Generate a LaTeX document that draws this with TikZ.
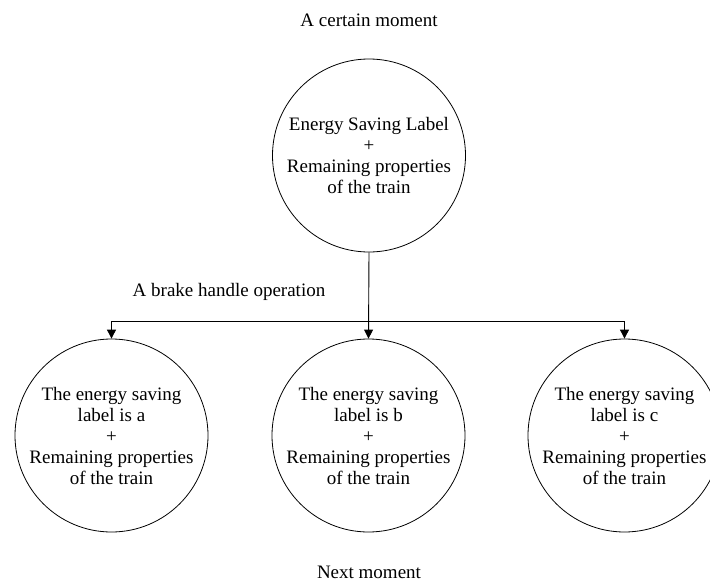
\documentclass[tikz,border=0pt]{standalone}
\usepackage{fontspec}
\setmainfont{Liberation Serif}
\usetikzlibrary{arrows.meta}
\begin{document}
\begin{tikzpicture}[x=1pt,y=-1pt,
  state/.style={draw,circle,line width=0.8pt,minimum size=193pt,inner sep=0pt,align=center,font=\fontsize{19}{21}\selectfont},
  caption/.style={font=\fontsize{19}{21}\selectfont,inner sep=0pt},
  link/.style={line width=0.9pt,-{Triangle[length=9pt,width=9pt]}}]
\useasboundingbox (0,0) rectangle (710,581);
\clip (0,0) rectangle (710,581);
\node[state] (top) at (369,155.5) {Energy Saving Label\\+\\Remaining properties\\of the train};
\node[state] (a) at (111.5,435.5) {The energy saving\\label is a\\+\\Remaining properties\\of the train};
\node[state] (b) at (368.5,435.5) {The energy saving\\label is b\\+\\Remaining properties\\of the train};
\node[state] (c) at (624.5,435.5) {The energy saving\\label is c\\+\\Remaining properties\\of the train};
\coordinate (bus) at (368.5,321);
\node[caption] (t1) at (369,20) {A certain moment};
\node[caption] (t2) at (229,292) {A brake handle operation};
\node[caption] (t3) at (369,572) {Next moment};
\draw[link] (top.south) -- (b.north);
\draw[link] (bus) -| (a.north);
\draw[link] (bus) -| (c.north);
\end{tikzpicture}
\end{document}
